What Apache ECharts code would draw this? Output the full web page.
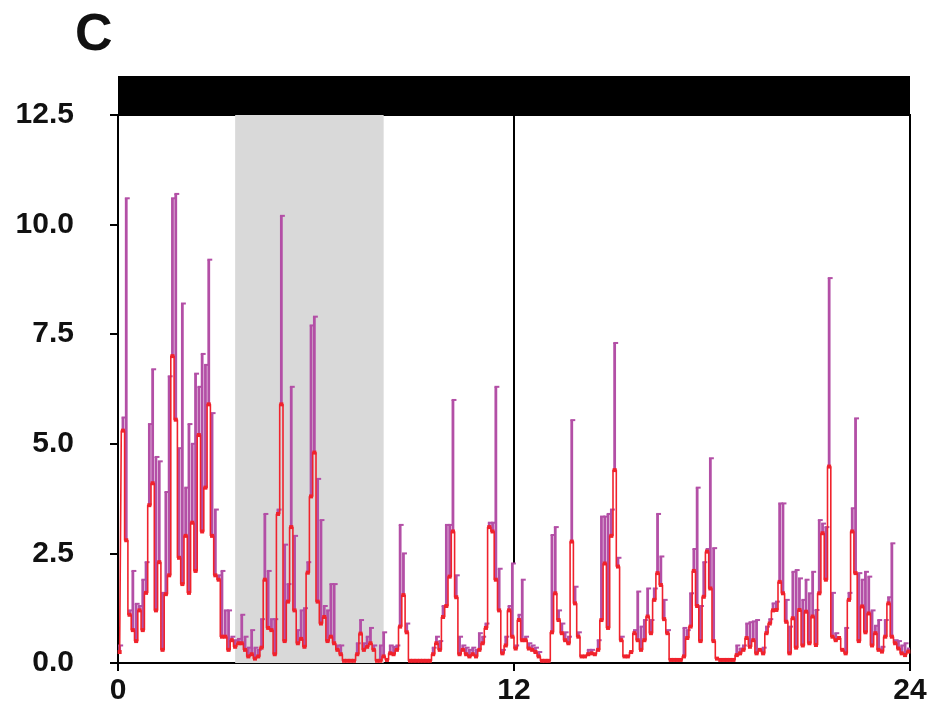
<!DOCTYPE html>
<html>
<head>
<meta charset="utf-8">
<script src="https://cdn.jsdelivr.net/npm/echarts@6/dist/echarts.min.js"></script>
<style>
  html, body { margin: 0; padding: 0; background: #fff; }
  #chart { width: 938px; height: 713px; }
</style>
</head>
<body>
<div id="chart"></div>
<script>
// 6-min bins over 24 h : mean activity (red) and mean + SD (purple whiskers)
var binHours = 0.1;
var meanActivity = [
  0.25, 5.3, 2.8, 1.1, 0.75, 0.5, 1.2, 0.75, 1.6, 3.6,
  4.1, 1.2, 2.3, 0.3, 1.57, 2.0, 7.0, 5.55, 2.4, 1.8,
  2.9, 1.6, 3.2, 2.1, 5.2, 3.0, 4.0, 5.9, 2.9, 2.0,
  1.9, 0.6, 0.6, 0.3, 0.52, 0.37, 0.45, 0.45, 0.3, 0.15,
  0.2, 0.1, 0.15, 0.35, 1.9, 0.8, 0.75, 0.2, 3.4, 5.9,
  0.5, 1.4, 3.1, 1.2, 0.45, 0.55, 0.37, 2.06, 3.8, 4.8,
  1.4, 0.9, 1.05, 0.5, 0.6, 0.45, 0.3, 0.2, 0.05, 0.05,
  0.05, 0.05, 0.2, 0.67, 0.3, 0.37, 0.45, 0.3, 0.05, 0.05,
  0.15, 0.07, 0.22, 0.2, 0.3, 0.83, 1.55, 0.7, 0.05, 0.05,
  0.05, 0.05, 0.05, 0.05, 0.05, 0.2, 0.45, 0.3, 1.05, 1.3,
  1.97, 3.0, 1.5, 0.2, 0.3, 0.2, 0.15, 0.2, 0.15, 0.3,
  0.45, 0.8, 3.1, 3.0, 1.9, 1.2, 0.22, 0.4, 1.2, 0.6,
  0.33, 0.98, 0.52, 0.52, 0.33, 0.3, 0.25, 0.15, 0.05, 0.05,
  0.05, 0.7, 1.59, 0.98, 0.68, 0.52, 0.45, 2.77, 1.36, 0.6,
  0.15, 0.15, 0.2, 0.22, 0.2, 0.3, 0.98, 2.27, 0.8, 2.9,
  4.4, 2.2, 0.52, 0.15, 0.15, 0.25, 0.68, 0.52, 0.3, 0.52,
  1.06, 0.68, 1.44, 2.05, 1.78, 1.0, 0.68, 0.07, 0.07, 0.07,
  0.07, 0.15, 0.57, 0.83, 2.1, 1.3, 0.5, 1.51, 2.54, 1.7,
  0.5, 0.1, 0.07, 0.07, 0.07, 0.07, 0.07, 0.18, 0.22, 0.3,
  0.57, 0.37, 0.52, 0.22, 0.3, 0.22, 0.68, 0.9, 1.2, 1.21,
  1.85, 1.59, 0.94, 0.22, 1.02, 0.35, 1.21, 0.4, 1.17, 0.45,
  1.06, 0.41, 1.59, 2.96, 1.9, 4.48, 0.6, 0.52, 0.57, 0.3,
  0.22, 1.44, 3.0, 2.05, 0.5, 1.29, 0.7, 1.13, 0.4, 0.68,
  0.3, 0.26, 0.6, 1.36, 0.6, 0.45, 0.33, 0.22, 0.18, 0.26
];
var upperActivity = [
  0.4, 5.6, 10.6, 1.2, 2.1, 1.35, 1.3, 1.9, 2.3, 5.45,
  6.7, 4.7, 4.6, 1.6, 3.9, 6.54, 10.6, 10.7, 4.9, 8.2,
  4.0, 5.45, 5.0, 6.6, 6.3, 7.05, 6.8, 9.2, 5.7, 3.5,
  2.0, 2.1, 1.2, 1.2, 0.6, 0.52, 0.55, 1.1, 0.6, 0.35,
  0.75, 0.35, 0.3, 1.0, 3.4, 2.1, 1.0, 1.0, 3.5, 10.2,
  2.7, 1.8, 6.3, 2.9, 0.75, 1.2, 1.25, 2.3, 7.7, 7.9,
  4.2, 3.26, 1.3, 1.2, 1.8, 1.8, 0.4, 0.4, 0.05, 0.05,
  0.05, 0.05, 0.45, 0.98, 0.45, 0.6, 0.8, 0.4, 0.05, 0.4,
  0.7, 0.07, 0.4, 0.37, 0.4, 3.15, 2.5, 0.9, 0.05, 0.05,
  0.05, 0.05, 0.05, 0.05, 0.05, 0.35, 0.6, 0.5, 1.3, 3.15,
  3.15, 6.0, 2.0, 0.6, 0.4, 0.35, 0.3, 0.35, 0.3, 0.68,
  0.6, 0.9, 3.2, 3.2, 6.3, 2.15, 0.3, 0.6, 1.3, 2.27,
  0.4, 1.1, 1.9, 0.6, 0.45, 0.4, 0.35, 0.25, 0.05, 0.05,
  0.05, 2.92, 3.1, 1.2, 0.9, 0.7, 0.6, 5.54, 1.74, 0.7,
  0.15, 0.15, 0.3, 0.3, 0.2, 0.52, 3.34, 3.34, 3.4, 3.5,
  7.3, 2.4, 0.6, 0.15, 0.15, 0.3, 0.75, 1.63, 0.83, 0.98,
  1.7, 0.98, 1.7, 3.4, 2.43, 1.44, 0.75, 0.07, 0.07, 0.07,
  0.07, 0.8, 0.75, 1.59, 2.6, 4.0, 1.3, 2.3, 2.6, 4.67,
  2.62, 0.1, 0.07, 0.07, 0.07, 0.07, 0.07, 0.4, 0.33, 0.4,
  0.9, 0.93, 0.95, 0.98, 0.35, 0.35, 0.83, 1.0, 1.36, 1.4,
  3.64, 3.64, 1.44, 0.83, 2.08, 2.12, 1.93, 1.44, 1.9, 1.59,
  2.08, 1.21, 3.26, 3.18, 3.1, 8.78, 1.6, 0.68, 0.6, 0.33,
  0.8, 1.6, 3.53, 5.58, 2.05, 1.9, 2.08, 1.97, 1.2, 0.85,
  0.98, 0.37, 0.98, 1.5, 2.73, 0.52, 0.5, 0.4, 0.45, 0.33
];
var darkBand = [[3.55, 8.05]];     // grey shaded interval (h)
var lightBar = [[0, 24]];          // black bar above the plot
var noonLine = [[12, 2.28], [12, 12.5]];
var xTicks = [0, 12, 24];
var yMax = 12.5;

var purple = '#b34fa6';
var red = '#f0222c';
var font = 'Liberation Sans, Arial, Helvetica, sans-serif';

var meanData = [];
var barData = [];
for (var i = 0; i < meanActivity.length; i++) {
    var x = i * binHours + binHours / 2;
    meanData.push([x, meanActivity[i]]);
    barData.push([x, meanActivity[i], upperActivity[i]]);
}

var chart = echarts.init(document.getElementById('chart'));

chart.setOption({
    animation: false,
    backgroundColor: '#fff',
    title: {
        text: 'C',
        left: 70, top: 5,
        textStyle: { fontFamily: font, fontSize: 52, fontWeight: 'bold', color: '#111' }
    },
    grid: [
        { left: 118, top: 115, width: 792, height: 548, show: true, borderColor: '#000', borderWidth: 2, backgroundColor: 'transparent' },
        { left: 118, top: 76, width: 792, height: 39 }
    ],
    xAxis: [{
        type: 'value', min: xTicks[0], max: xTicks[xTicks.length - 1], interval: xTicks[1] - xTicks[0],
        axisLine: { lineStyle: { color: '#000', width: 2 } },
        axisTick: { length: 8, lineStyle: { color: '#000', width: 2 } },
        axisLabel: { margin: 13, color: '#111', fontFamily: font, fontSize: 30, fontWeight: 'bold' },
        splitLine: { show: false }
    }, {
        gridIndex: 1, type: 'value', min: 0, max: 24, show: false
    }],
    yAxis: [{
        type: 'value', min: 0, max: yMax, interval: 2.5,
        axisLine: { show: true, lineStyle: { color: '#000', width: 2 } },
        axisTick: { show: true, length: 8, lineStyle: { color: '#000', width: 2 } },
        axisLabel: {
            margin: 44, color: '#111', fontFamily: font, fontSize: 30, fontWeight: 'bold',
            formatter: function (v) { return v.toFixed(1); }
        },
        splitLine: { show: false }
    }, {
        gridIndex: 1, type: 'value', min: 0, max: 1, show: false
    }],
    series: [{
        // grey shaded interval
        type: 'custom', z: 1, silent: true,
        data: darkBand,
        renderItem: function (params, api) {
            var p0 = api.coord([api.value(0), yMax]);
            var p1 = api.coord([api.value(1), 0]);
            return { type: 'rect', shape: { x: p0[0], y: p0[1], width: p1[0] - p0[0], height: p1[1] - p0[1] },
                     style: { fill: '#d9d9d9' } };
        }
    }, {
        // black bar on top
        type: 'custom', xAxisIndex: 1, yAxisIndex: 1, silent: true,
        data: lightBar,
        renderItem: function (params, api) {
            var p0 = api.coord([api.value(0), 1]);
            var p1 = api.coord([api.value(1), 0]);
            return { type: 'rect', shape: { x: p0[0], y: p0[1], width: p1[0] - p0[0], height: p1[1] - p0[1] },
                     style: { fill: '#000' } };
        }
    }, {
        type: 'line', z: 2, data: noonLine, symbol: 'none', silent: true,
        lineStyle: { color: '#000', width: 2 }
    }, {
        // mean + SD whiskers
        type: 'custom', z: 3, clip: true,
        data: barData,
        encode: { x: 0, y: [1, 2] },
        renderItem: function (params, api) {
            var x = api.value(0), lo = api.value(1), hi = api.value(2);
            if (hi - lo < 0.05) return null;
            var p0 = api.coord([x, lo]);
            var p1 = api.coord([x, hi]);
            return { type: 'group', children: [
                { type: 'line', shape: { x1: p0[0], y1: p0[1], x2: p1[0], y2: p1[1] }, style: { stroke: purple, lineWidth: 2.8 } },
                { type: 'line', shape: { x1: p1[0] - 1.4, y1: p1[1], x2: p1[0] + 3.5, y2: p1[1] }, style: { stroke: purple, lineWidth: 2 } }
            ] };
        }
    }, {
        // mean
        type: 'line', z: 4, step: 'middle', data: meanData,
        symbol: 'rect', symbolSize: 4, showAllSymbol: true,
        itemStyle: { color: red },
        lineStyle: { color: red, width: 1.6 }
    }]
});
</script>
</body>
</html>
